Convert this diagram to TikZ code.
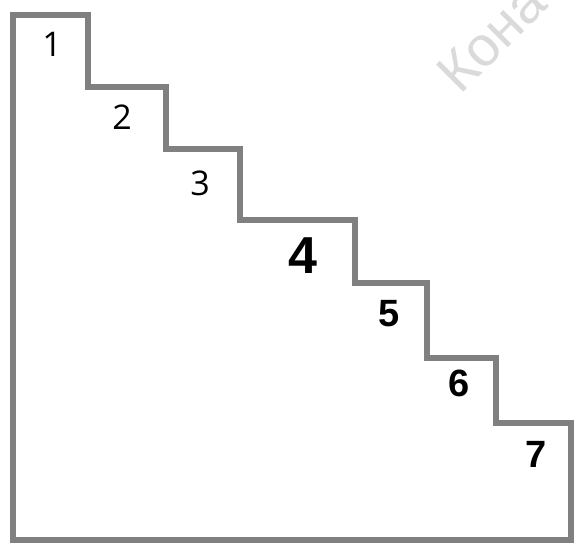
\documentclass[tikz,border=0pt]{standalone}
\usepackage{fontspec}
\setmainfont{Liberation Sans}
\newfontfamily\thinfont{Open Sans}
\definecolor{stairgray}{HTML}{808080}
\definecolor{wmgray}{HTML}{DADADA}
\begin{document}
\begin{tikzpicture}[x=1pt,y=-1pt,
  stairline/.style={draw=stairgray,line width=6pt,line join=miter},
  thinlabel/.style={inner sep=0pt,font=\thinfont\fontsize{34}{34}\selectfont},
  boldlabel/.style={inner sep=0pt,font=\bfseries\fontsize{38}{38}\selectfont},
  watermark/.style={inner sep=0pt,anchor=base west,rotate=45,text=wmgray,font=\fontsize{56}{56}\selectfont}]
\useasboundingbox (0,0) rectangle (575,544);
\begin{scope}
\clip (0,0) rectangle (575,544);
\node[watermark] (wm) at (460,96) {Кона};
\end{scope}
\draw[stairline] (13,15) -- (88,15) -- (88,87) -- (166,87) -- (166,149) -- (240,149) -- (240,220) -- (355,220) -- (355,283) -- (427,283) -- (427,358) -- (496,358) -- (496,423) -- (571,423) -- (571,540) -- (13,540) -- cycle;
\node[thinlabel] (l1) at (52,44) {1};
\node[thinlabel] (l2) at (122,117) {2};
\node[thinlabel] (l3) at (200,183) {3};
\node[boldlabel,font=\bfseries\fontsize{52}{52}\selectfont] (l4) at (303,256) {4};
\node[boldlabel] (l5) at (389,314) {5};
\node[boldlabel] (l6) at (459,383) {6};
\node[boldlabel] (l7) at (536,454) {7};
\end{tikzpicture}
\end{document}
